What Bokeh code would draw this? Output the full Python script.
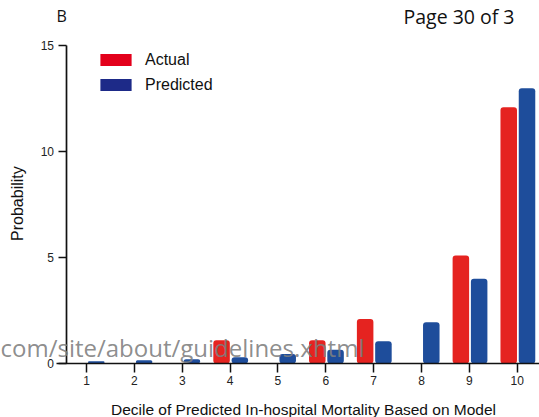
import math
from bokeh.plotting import figure
from bokeh.models import Range1d, FixedTicker, Label, Legend, LegendItem, ColumnDataSource
from bokeh.transform import dodge
from bokeh.embed import file_html
from bokeh.resources import INLINE

# ---- data ----
deciles = [1, 2, 3, 4, 5, 6, 7, 8, 9, 10]
actual = [0, 0, 0, 1.1, 0, 1.1, 2.1, 0, 5.1, 12.1]
predicted = [0.1, 0.15, 0.2, 0.3, 0.45, 0.65, 1.05, 1.95, 4.0, 13.0]
y_ticks = [0, 5, 10, 15]
series_names = ["Actual", "Predicted"]
x_title = "Decile of Predicted In-hospital Mortality Based on Model"
y_title = "Probability"
panel_letter = "B"
page_text = "Page 30 of 3"
watermark_text = "com/site/about/guidelines.xhtml"

RED_BAR = "#e52320"
BLUE_BAR = "#1e4d9b"
RED_KEY = "#e3001b"
BLUE_KEY = "#1d2a88"
FONT = "Liberation Sans"

# the plotting frame covers the whole canvas; axes sit at fixed data locations
p = figure(width=539, height=417, output_backend="svg", toolbar_location=None,
           x_range=Range1d(-0.797, 10.465), y_range=Range1d(-2.55, 17.139),
           min_border_left=0, min_border_right=0, min_border_top=0, min_border_bottom=0)
p.outline_line_color = None
p.xgrid.grid_line_color = None
p.ygrid.grid_line_color = None
p.background_fill_color = "white"

xa = p.xaxis[0]
xa.fixed_location = 0
xa.bounds = (0.373, 10.465)
xa.ticker = FixedTicker(ticks=deciles)
xa.axis_line_width = 1.7
xa.axis_line_color = "#111111"
xa.major_tick_line_width = 1.5
xa.major_tick_line_color = "#111111"
xa.major_tick_out = 9
xa.major_tick_in = 0
xa.minor_tick_line_color = None
xa.major_label_text_font = FONT
xa.major_label_text_font_size = "12px"
xa.major_label_text_color = "#222222"
xa.major_label_standoff = 4

ya = p.yaxis[0]
ya.fixed_location = 0.572
ya.bounds = (0, 15)
ya.ticker = FixedTicker(ticks=y_ticks)
ya.axis_line_width = 1.7
ya.axis_line_color = "#111111"
ya.major_tick_line_width = 1.5
ya.major_tick_line_color = "#111111"
ya.major_tick_out = 8
ya.major_tick_in = 0
ya.minor_tick_line_color = None
ya.major_label_text_font = FONT
ya.major_label_text_font_size = "12px"
ya.major_label_text_color = "#222222"
ya.major_label_text_baseline = "bottom"
ya.major_label_standoff = 4

source = ColumnDataSource(dict(decile=deciles, actual=actual, predicted=predicted))
p.vbar(x=dodge("decile", -0.178), top="actual", width=0.345, source=source,
       fill_color=RED_BAR, line_color=None, border_radius=3)
p.vbar(x=dodge("decile", 0.204), top="predicted", width=0.345, source=source,
       fill_color=BLUE_BAR, line_color=None, border_radius=3)

# legend keys (zero-size renderers that only carry the key colours)
k1 = p.vbar(x="decile", top=0, width=0, source=source, fill_color=RED_KEY, line_color=None)
k2 = p.vbar(x="decile", top=0, width=0, source=source, fill_color=BLUE_KEY, line_color=None)
legend = Legend(items=[LegendItem(label=series_names[0], renderers=[k1]),
                       LegendItem(label=series_names[1], renderers=[k2])],
                location=(96, 323.5), padding=0, margin=0, spacing=7,
                glyph_width=39, glyph_height=15, label_height=15, label_standoff=10,
                label_text_font=FONT, label_text_font_size="16px",
                label_text_color="#111111",
                border_line_color=None, background_fill_alpha=0)
p.add_layout(legend)

# axis titles and page texts
p.add_layout(Label(x=5.534, y=-2.18, text=x_title, text_align="center",
                   text_baseline="alphabetic", text_font=FONT,
                   text_font_size="15.5px", text_color="#111111"))
p.add_layout(Label(x=-0.442, y=7.55, text=y_title, angle=math.pi / 2,
                   text_align="center", text_baseline="middle", text_font=FONT,
                   text_font_size="16px", text_color="#111111"))
p.add_layout(Label(x=0.373, y=16.40, text=panel_letter, text_align="left",
                   text_baseline="alphabetic", text_font="Open Sans",
                   text_font_size="16px", text_color="#111111"))
p.add_layout(Label(x=7.623, y=16.39, text=page_text, text_align="left",
                   text_baseline="alphabetic", text_font="Open Sans",
                   text_font_size="19.5px", text_color="#111111"))
p.add_layout(Label(x=-0.797, y=0.76, text=watermark_text, text_align="left",
                   text_baseline="alphabetic", text_font="Open Sans",
                   text_font_size="24px", text_color="#7f7f7f", text_alpha=0.9))

open("out.html", "w").write(file_html(p, INLINE))
